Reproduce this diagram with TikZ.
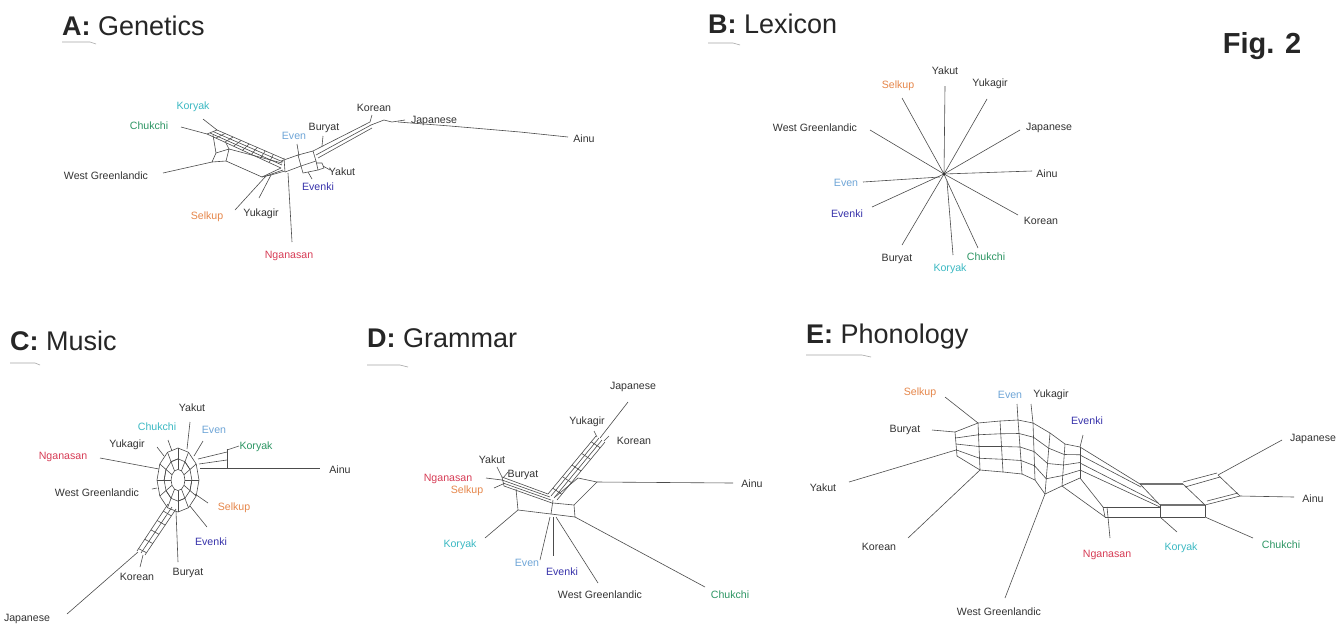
\documentclass[tikz,border=0pt]{standalone}
\usepackage{fontspec}
\setmainfont{Liberation Sans}
\usetikzlibrary{calc}
\definecolor{cK}{RGB}{60,185,195}
\definecolor{cC}{RGB}{45,150,100}
\definecolor{cE}{RGB}{110,165,215}
\definecolor{cEk}{RGB}{55,50,170}
\definecolor{cS}{RGB}{230,135,75}
\definecolor{cN}{RGB}{215,60,85}
\tikzset{
  net/.style={draw=black!70, line width=0.6pt, line join=round},
  lab/.style={font=\fontsize{10.6}{12}\selectfont, text=black!80, inner sep=1pt},
  ttl/.style={font=\fontsize{27}{30}\selectfont, text=black!85, anchor=base west, inner sep=0pt},
  sbar/.style={draw=black!35, line width=0.6pt},
  bar/.style={draw=black!55, line width=2.2pt},
}
\begin{document}
\begin{tikzpicture}[x={(1pt,0)}, y={(0,-1pt)}]
\fill[white] (0,0) rectangle (1343,625);
\useasboundingbox (0,0) rectangle (1343,625);

% ---------------- titles ----------------
\node[ttl] (tA) at (62,35) {\textbf{A:} Genetics};
\node[ttl] (tB) at (708,33) {\textbf{B:} Lexicon};
\node[ttl] (tC) at (10,350) {\textbf{C:} Music};
\node[ttl] (tD) at (367,347) {\textbf{D:} Grammar};
\node[ttl] (tE) at (806,343) {\textbf{E:} Phonology};
\node[font=\fontsize{29}{32}\selectfont\bfseries, text=black!85, anchor=base, inner sep=0pt] (fig) at (1262,53) {Fig. 2};

% scale bars
\draw[sbar] (62,42) -- (90,42) -- (96,44);
\draw[sbar] (708,43) -- (733,43) -- (740,45);
\draw[sbar] (10,363) -- (35,363) -- (40,365);
\draw[sbar] (367,365) -- (400,365) -- (408,367);
\draw[sbar] (806,355) -- (862,355) -- (871,357);

% ================= A: Genetics =================
\node[lab,text=cK] (aKor) at (193,107) {Koryak};
\node[lab,text=cC] (aChu) at (149,126) {Chukchi};
\node[lab] (aWG) at (106,176) {West Greenlandic};
\node[lab,text=cS] (aSel) at (207,217) {Selkup};
\node[lab] (aYuk) at (261,214) {Yukagir};
\node[lab,text=cN] (aNga) at (289,256) {Nganasan};
\node[lab,text=cE] (aEve) at (294,136) {Even};
\node[lab] (aBur) at (324,128) {Buryat};
\node[lab] (aKoe) at (374,108) {Korean};
\node[lab] (aJap) at (434,121) {Japanese};
\node[lab] (aAin) at (584,139) {Ainu};
\node[lab] (aYak) at (342,172) {Yakut};
\node[lab,text=cEk] (aEvk) at (318,187) {Evenki};

\draw[net] (217,130) -- (203,119);
\draw[net] (207,134) -- (181,127);
\draw[net] (217,130) -- (284,159);
\draw[net] (213,131.5) -- (283,162);
\draw[net] (210,133) -- (282,165);
\draw[net] (207,134) -- (281,168);
\draw[net] (217,130) -- (207,134);
\foreach \t in {0.12,0.24,...,0.9}
  \draw[net] ($(217,130)!\t!(284,159)$) -- ($(207,134)!\t!(281,168)$);
\draw[net] (212,162) -- (216,153) -- (229,149) -- (226,161) -- cycle;
\draw[net] (216,153) -- (213,135);
\draw[net] (229,149) -- (226,143);
\draw[net] (212,162) -- (163,173);
\draw[net] (229,149) -- (282,163);
\draw[net] (226,161) -- (262,177);
\draw[net] (262,177) -- (281,168);
\draw[net] (266,176) -- (283,170);
\draw[net] (271,175) -- (285,171);
\draw[net] (262,177) -- (266,176) -- (271,175);
\draw[net] (266,176) -- (235,210);
\draw[net] (271,175) -- (259,198);
\draw[net] (288,173) -- (292,242);
\draw[net] (284,158) -- (285,172);
\draw[net] (281,161) -- (298,155) -- (301,166) -- (285,172);
\draw[net] (298,155) -- (313,151) -- (316,161) -- (301,166);
\draw[net] (301,166) -- (303,173) -- (318,170) -- (316,161);
\draw[net] (316,163) -- (322,163) -- (324,168) -- (318,170);
\draw[net] (299,156) -- (297,144);
\draw[net] (323,166) -- (330,170);
\draw[net] (308,172) -- (312,179);
\draw[net] (313,151) -- (370,122);
\draw[net] (316,155) -- (371,125);
\draw[net] (318,158) -- (372,128);
\draw[net] (322,146) -- (323,136);
\draw[net] (370,122) -- (372,115);
\draw[net] (371,125) -- (384,120) -- (392,122) -- (405,120);
\draw[net] (398,122) -- (450,126) -- (520,132) -- (568,137);

% ================= B: Lexicon =================
\coordinate (bc) at (944,174);
\node[lab] (bYak) at (945,71) {Yakut};
\node[lab] (bYuk) at (990,84) {Yukagir};
\node[lab,text=cS] (bSel) at (898,86) {Selkup};
\node[lab] (bWG) at (815,128) {West Greenlandic};
\node[lab] (bJap) at (1049,128) {Japanese};
\node[lab] (bAin) at (1047,174) {Ainu};
\node[lab,text=cE] (bEve) at (846,183) {Even};
\node[lab,text=cEk] (bEvk) at (847,214) {Evenki};
\node[lab] (bKoe) at (1041,221) {Korean};
\node[lab] (bBur) at (897,259) {Buryat};
\node[lab,text=cK] (bKor) at (950,269) {Koryak};
\node[lab,text=cC] (bChu) at (986,257) {Chukchi};
\draw[net] (bc) -- (945,86);
\draw[net] (bc) -- (987,99);
\draw[net] (bc) -- (902,98);
\draw[net] (bc) -- (870,130);
\draw[net] (bc) -- (1020,130);
\draw[net] (bc) -- (1032,171);
\draw[net] (940,177) -- (863,182);
\draw[net] (bc) -- (872,207);
\draw[net] (bc) -- (1018,215);
\draw[net] (bc) -- (902,245);
\draw[net] (bc) -- (947,181);
\draw[net] (947,181) -- (953,255);
\draw[net] (947,181) -- (978,248);
\fill[black!80] (bc) circle (1.6);

% ================= C: Music =================
\node[lab] (cYak) at (192,408) {Yakut};
\node[lab,text=cK] (cChu) at (157,427) {Chukchi};
\node[lab,text=cE] (cEve) at (214,430) {Even};
\node[lab,text=cC] (cKor) at (256,447) {Koryak};
\node[lab] (cYuk) at (127,445) {Yukagir};
\node[lab,text=cN] (cNga) at (63,457) {Nganasan};
\node[lab] (cAin) at (340,470) {Ainu};
\node[lab] (cWG) at (97,493) {West Greenlandic};
\node[lab,text=cS] (cSel) at (234,508) {Selkup};
\node[lab,text=cEk] (cEvk) at (211,542) {Evenki};
\node[lab] (cKoe) at (137,577) {Korean};
\node[lab] (cBur) at (188,573) {Buryat};
\node[lab] (cJap) at (27,619) {Japanese};

\foreach \r in {0.33,0.66,1}
  \draw[net] plot[domain=0:360,samples=13,variable=\a] ({178+21*\r*cos(\a)},{480+32*\r*sin(\a)}) -- cycle;
\foreach \a in {0,30,...,330}
  \draw[net] ({178+21*0.33*cos(\a)},{480+32*0.33*sin(\a)}) -- ({178+21*cos(\a)},{480+32*sin(\a)});
\foreach \a in {15,75,...,315}
  \draw[net] ({178+21*0.66*cos(\a-15)},{480+32*0.66*sin(\a-15)}) -- ({178+21*0.66*cos(\a+15)},{480+32*0.66*sin(\a+15)});
\draw[net] (187,449) -- (190,422);
\draw[net] (172,451) -- (168,440);
\draw[net] (194,456) -- (203,441);
\draw[net] (198,459) -- (227,452);
\draw[net] (199,464) -- (227,460);
\draw[net] (200,468) -- (227,468);
\draw[net] (227,449) -- (227,468);
\draw[net] (227,450) -- (239,446);
\draw[net] (227,468) -- (320,468);
\draw[net] (164,456) -- (157,447);
\draw[net] (159,469) -- (100,458);
\draw[net] (157,488) -- (152,489);
\draw[net] (195,494) -- (208,503);
\draw[net] (190,506) -- (207,527);
\draw[net] (176,511) -- (178,562);
\draw[net] (168,504) -- (137,551);
\draw[net] (172,507) -- (141,553);
\draw[net] (176,509) -- (145,555);
\foreach \t in {0.15,0.35,0.55,0.75,0.95}
  \draw[net] ($(168,504)!\t!(137,551)$) -- ($(176,509)!\t!(145,555)$);
\draw[net] (138,552) -- (67,614);
\draw[net] (143,555) -- (140,567);

% ================= D: Grammar =================
\node[lab] (dJap) at (633,387) {Japanese};
\node[lab] (dYuk) at (587,422) {Yukagir};
\node[lab] (dKoe) at (634,441) {Korean};
\node[lab] (dYak) at (492,460) {Yakut};
\node[lab] (dBur) at (523,475) {Buryat};
\node[lab,text=cN] (dNga) at (448,479) {Nganasan};
\node[lab,text=cS] (dSel) at (467,491) {Selkup};
\node[lab] (dAin) at (752,484) {Ainu};
\node[lab,text=cK] (dKor) at (460,545) {Koryak};
\node[lab,text=cE] (dEve) at (527,563) {Even};
\node[lab,text=cEk] (dEvk) at (562,572) {Evenki};
\node[lab] (dWG) at (600,595) {West Greenlandic};
\node[lab,text=cC] (dChu) at (730,595) {Chukchi};

\draw[net] (628,402) -- (600,438);
\draw[net] (597,437) -- (594,431);
\draw[net] (604,441) -- (609,436);
\draw[net] (596,436) -- (548,494);
\draw[net] (599,438) -- (551,496);
\draw[net] (602,440) -- (554,498);
\draw[net] (605,442) -- (557,500);
\foreach \t in {0.1,0.3,0.5,0.7,0.9}
  \draw[net] ($(596,436)!\t!(548,494)$) -- ($(605,442)!\t!(557,500)$);
\draw[net] (548,494) -- (502,477);
\draw[net] (550,497) -- (502,480);
\draw[net] (551,500) -- (503,483);
\draw[net] (552,503) -- (504,486);
\draw[net] (502,477) -- (504,486);
\draw[net] (502,477) -- (497,467);
\draw[net] (503,478) -- (508,472);
\draw[net] (486,478) -- (502,480);
\draw[net] (503,484) -- (494,488);
\draw[net] (516,489) -- (518,510);
\draw[net] (518,510) -- (551,514);
\draw[net] (518,510) -- (485,538);
\draw[net] (555,497) -- (578,478) -- (597,482) -- (574,505) -- (553,503);
\draw[net] (597,482) -- (733,483);
\draw[net] (574,505) -- (575,517) -- (551,514);
\draw[net] (553,500) -- (551,514);
\draw[net] (550,517) -- (540,560);
\draw[net] (553,517) -- (553,556);
\draw[net] (556,517) -- (598,583);
\draw[net] (575,517) -- (705,587);

% ================= E: Phonology =================
\node[lab,text=cS] (eSel) at (920,393) {Selkup};
\node[lab,text=cE] (eEve) at (1010,395) {Even};
\node[lab] (eYuk) at (1051,395) {Yukagir};
\node[lab] (eBur) at (905,430) {Buryat};
\node[lab,text=cEk] (eEvk) at (1087,421) {Evenki};
\node[lab] (eJap) at (1313,439) {Japanese};
\node[lab] (eYak) at (823,488) {Yakut};
\node[lab] (eAin) at (1313,499) {Ainu};
\node[lab] (eKoe) at (879,547) {Korean};
\node[lab,text=cN] (eNga) at (1107,555) {Nganasan};
\node[lab,text=cK] (eKor) at (1181,548) {Koryak};
\node[lab,text=cC] (eChu) at (1281,545) {Chukchi};
\node[lab] (eWG) at (999,612) {West Greenlandic};

\coordinate (T0) at (955,432); \coordinate (B0) at (957,456);
\coordinate (T1) at (978,423); \coordinate (B1) at (980,470);
\coordinate (T2) at (1000,421); \coordinate (B2) at (1003,472);
\coordinate (T3) at (1018,420); \coordinate (B3) at (1022,474);
\coordinate (T4) at (1033,423); \coordinate (B4) at (1035,480);
\coordinate (T5) at (1050,433); \coordinate (B5) at (1045,494);
\coordinate (T6) at (1065,444); \coordinate (B6) at (1062,486);
\coordinate (T7) at (1080,447); \coordinate (B7) at (1080,478);
\foreach \i in {0,...,7} \draw[net] (T\i) -- (B\i);
\foreach \j [count=\i from 0] in {1,...,7}
  \foreach \k in {0,0.25,0.5,0.75,1}
    \draw[net] ($(T\i)!\k!(B\i)$) -- ($(T\j)!\k!(B\j)$);
\draw[net] (978,423) -- (945,397);
\draw[net] (1018,420) -- (1017,404);
\draw[net] (1033,423) -- (1031,404);
\draw[net] (955,432) -- (932,430);
\draw[net] (956,450) -- (849,482);
\draw[net] (980,470) -- (908,538);
\draw[net] (1045,494) -- (1005,598);
\draw[net] (1080,447) -- (1083,435);
\draw[net] (1080,447) -- (1140,484);
\draw[net] (1080,455) -- (1141,487);
\draw[net] (1080,463) -- (1158,503);
\draw[net] (1080,470) -- (1160,507);
\draw[net] (1080,478) -- (1103,507);
\draw[net] (1062,486) -- (1105,517);
\draw[net] (1103,507) -- (1105,517);
\draw[bar] (1140,484) -- (1183,484);
\draw[bar] (1160,505) -- (1205,505);
\draw[net] (1140,484) -- (1160,505);
\draw[net] (1183,484) -- (1205,505);
\draw[net] (1183,482) -- (1217,473);
\draw[net] (1185,487) -- (1220,477);
\draw[net] (1218,475) -- (1282,440);
\draw[net] (1218,475) -- (1240,496);
\draw[net] (1205,505) -- (1240,496);
\draw[net] (1207,501) -- (1238,493);
\draw[net] (1240,496) -- (1294,497);
\draw[net] (1103,507) -- (1160,507);
\draw[net] (1105,517) -- (1205,517);
\draw[net] (1160,505) -- (1160,517);
\draw[net] (1205,505) -- (1205,517);
\draw[net] (1107,507) -- (1110,538);
\draw[net] (1160,517) -- (1177,532);
\draw[net] (1205,517) -- (1253,538);
\end{tikzpicture}
\end{document}
